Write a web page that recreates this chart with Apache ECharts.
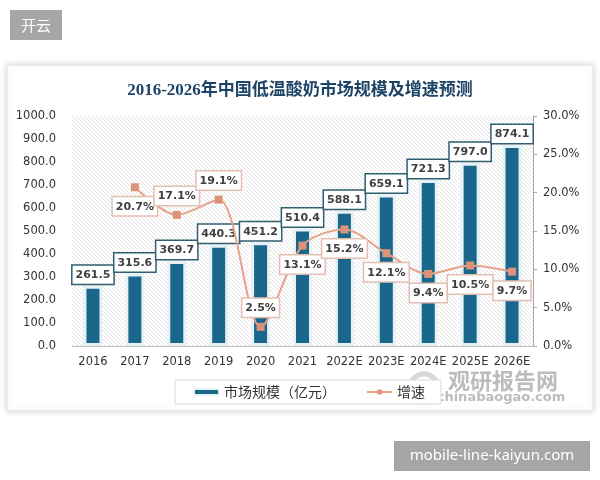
<!DOCTYPE html>
<html>
<head>
<meta charset="utf-8">
<style>
  html, body { margin: 0; padding: 0; background: #fff; }
  #chart { width: 600px; height: 480px; }
</style>
<script src="https://cdn.jsdelivr.net/npm/echarts@6/dist/echarts.min.js"></script>
</head>
<body>
<div id="chart"></div>
<script>
// 数据
var years = ['2016', '2017', '2018', '2019', '2020', '2021', '2022E', '2023E', '2024E', '2025E', '2026E'];
var marketSize = [261.5, 315.6, 369.7, 440.3, 451.2, 510.4, 588.1, 659.1, 721.3, 797.0, 874.1];
var growthRate = [null, 20.7, 17.1, 19.1, 2.5, 13.1, 15.2, 12.1, 9.4, 10.5, 9.7];
var leftTicks = [0, 1000, 100];   // min, max, interval
var rightTicks = [0, 30, 5];

// 增速标签放在点的上方还是下方
var growthLabelPos = ['bottom', 'bottom', 'top', 'top', 'top', 'bottom', 'bottom', 'bottom', 'bottom', 'bottom', 'bottom'];

var chartDom = document.getElementById('chart');
var myChart = echarts.init(chartDom);

// 斜线底纹
function makeHatch() {
    var s = 4;
    var c = document.createElement('canvas');
    c.width = s; c.height = s;
    var ctx = c.getContext('2d');
    ctx.fillStyle = '#ffffff';
    ctx.fillRect(0, 0, s, s);
    ctx.strokeStyle = '#dcdcdc';
    ctx.lineWidth = 0.8;
    ctx.beginPath();
    ctx.moveTo(0, 0); ctx.lineTo(s, s);
    ctx.moveTo(-1, s - 1); ctx.lineTo(1, s + 1);
    ctx.moveTo(s - 1, -1); ctx.lineTo(s + 1, 1);
    ctx.stroke();
    return c;
}

var growthData = growthRate.map(function (v, i) {
    return { value: v, label: { position: growthLabelPos[i] } };
});

var numFont = 'DejaVu Sans, Verdana, sans-serif';

var option = {
    backgroundColor: '#ffffff',
    animation: false,
    title: {
        text: '2016-2026年中国低温酸奶市场规模及增速预测',
        left: 'center',
        top: 77,
        textStyle: {
            fontFamily: 'Liberation Serif, Noto Sans CJK SC, serif',
            fontSize: 17,
            fontWeight: 'bold',
            color: '#1d4466'
        }
    },
    graphic: [
        { type: 'rect', z: -10, shape: { x: 7, y: 65, width: 586, height: 346 },
          style: { fill: '#ffffff', stroke: '#e4e4e4', lineWidth: 1, shadowBlur: 6, shadowColor: 'rgba(0,0,0,0.18)' } },
        { type: 'rect', shape: { x: 10, y: 10, width: 52, height: 30 }, style: { fill: '#a6a6a6' } },
        { type: 'text', x: 36, y: 25, style: { text: '开云', fill: '#fff', font: '15px Noto Sans CJK SC', align: 'center', verticalAlign: 'middle' } },
        { type: 'rect', shape: { x: 394, y: 441, width: 196, height: 30 }, style: { fill: '#a6a6a6' } },
        { type: 'text', x: 492, y: 456, style: { text: 'mobile-line-kaiyun.com', fill: '#fff', font: '15px Noto Sans, sans-serif', align: 'center', verticalAlign: 'middle' } },
        // 水印
        { type: 'circle', shape: { cx: 424, cy: 388, r: 14 }, style: { fill: 'none', stroke: '#d6d6d6', lineWidth: 5 } },
        { type: 'text', x: 503, y: 381, style: { text: '观研报告网', fill: '#bcbcbc', font: 'bold 22px Noto Sans CJK SC', align: 'center', verticalAlign: 'middle' } },
        { type: 'text', x: 501, y: 398, style: { text: 'chinabaogao.com', fill: '#bcbcbc', font: 'bold 13px DejaVu Sans', align: 'center', verticalAlign: 'middle' } }
    ],
    legend: {
        left: 175,
        top: 380,
        itemGap: 30,
        itemWidth: 25,
        itemHeight: 6,
        padding: [5, 16, 5, 18],
        borderColor: '#d9d9d9',
        borderWidth: 1,
        backgroundColor: '#fff',
        textStyle: { fontFamily: 'Noto Sans CJK SC', fontSize: 14, color: '#333' },
        data: ['市场规模（亿元）', '增速']
    },
    grid: {
        left: 72,
        right: 67,
        top: 116,
        bottom: 134,
        show: true,
        borderWidth: 0,
        backgroundColor: { image: makeHatch(), repeat: 'repeat' }
    },
    xAxis: {
        type: 'category',
        data: years,
        axisLine: { lineStyle: { color: '#bfbfbf' } },
        axisTick: { show: false },
        axisLabel: { color: '#333', fontFamily: numFont, fontSize: 11.5, margin: 10, interval: 0 }
    },
    yAxis: [
        {
            type: 'value',
            min: leftTicks[0], max: leftTicks[1], interval: leftTicks[2],
            splitLine: { show: false },
            axisLine: { show: false },
            axisTick: { show: false },
            axisLabel: {
                color: '#333', fontFamily: numFont, fontSize: 11.5, margin: 16,
                formatter: function (v) { return v.toFixed(1); }
            }
        },
        {
            type: 'value',
            min: rightTicks[0], max: rightTicks[1], interval: rightTicks[2],
            splitLine: { show: false },
            axisLine: { show: true, lineStyle: { color: '#a6a6a6' } },
            axisTick: { show: true, length: 4, lineStyle: { color: '#a6a6a6' } },
            axisLabel: {
                color: '#333', fontFamily: numFont, fontSize: 11.5, margin: 10,
                formatter: function (v) { return v.toFixed(1) + '%'; }
            }
        }
    ],
    series: [
        {
            name: '市场规模（亿元）',
            type: 'bar',
            data: marketSize,
            barWidth: 19,
            itemStyle: { color: '#19678b', borderColor: '#e6f1f5', borderWidth: 3 },
            label: {
                show: true,
                position: 'top',
                distance: 2,
                formatter: function (p) { return p.value.toFixed(1); },
                fontFamily: numFont,
                fontSize: 11,
                fontWeight: 'bold',
                color: '#404040',
                backgroundColor: '#fff',
                borderColor: '#2f5e6e',
                borderWidth: 1.5,
                padding: [4, 3, 3, 3]
            }
        },
        {
            name: '增速',
            type: 'line',
            yAxisIndex: 1,
            data: growthData,
            smooth: 0.3,
            symbol: 'rect',
            symbolSize: 8,
            lineStyle: { color: '#e8a28a', width: 2 },
            itemStyle: { color: '#de9378' },
            z: 5,
            label: {
                show: true,
                distance: 6,
                formatter: function (p) { return p.value.toFixed(1) + '%'; },
                fontFamily: numFont,
                fontSize: 11,
                fontWeight: 'bold',
                color: '#404040',
                backgroundColor: '#fff',
                borderColor: '#e3bfb1',
                borderWidth: 1.5,
                padding: [4, 3, 3, 3]
            }
        }
    ]
};

myChart.setOption(option);

window.addEventListener('resize', function () {
    myChart.resize();
});
</script>
</body>
</html>
